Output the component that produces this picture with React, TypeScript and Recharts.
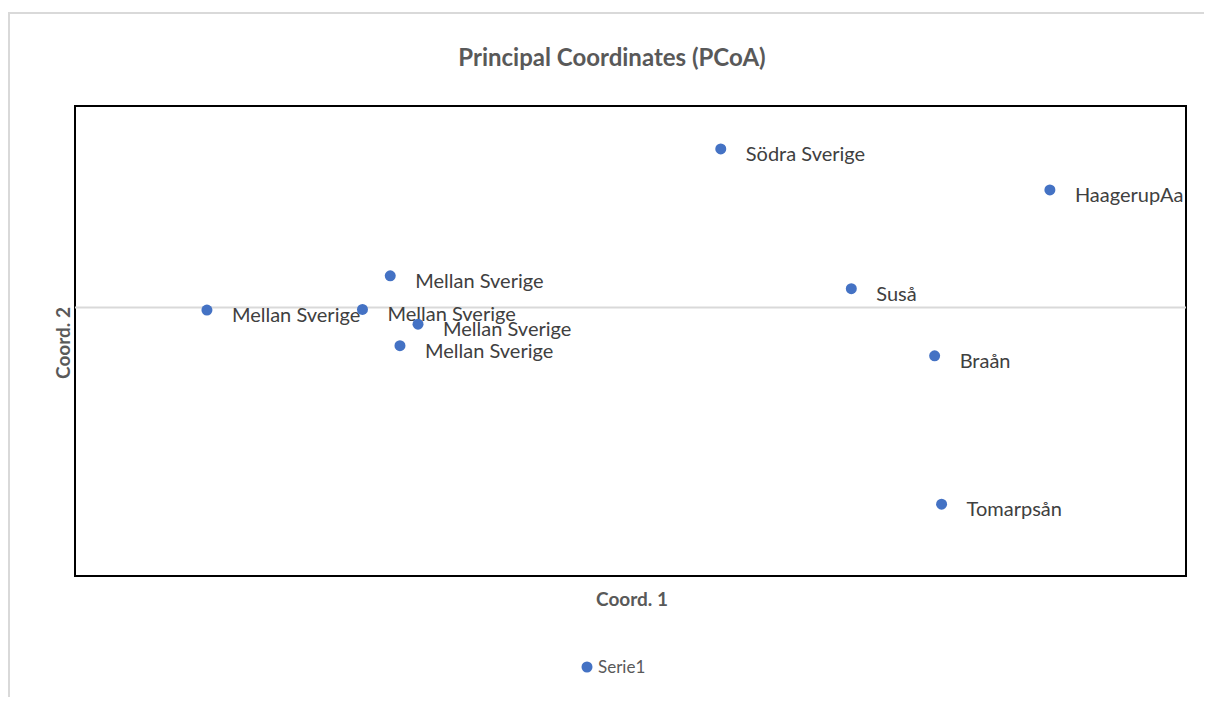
import { ScatterChart, Scatter, XAxis, YAxis, ReferenceLine, ReferenceArea } from "recharts";

const siteNames = [
  "Mellan Sverige",
  "Mellan Sverige",
  "Mellan Sverige",
  "Mellan Sverige",
  "Mellan Sverige",
  "Södra Sverige",
  "HaagerupAa",
  "Suså",
  "Braån",
  "Tomarpsån",
];
const coord1 = [-0.305, -0.193, -0.173, -0.153, -0.166, 0.065, 0.302, 0.159, 0.219, 0.224];
const coord2 = [-0.004, -0.003, 0.047, -0.025, -0.057, 0.236, 0.175, 0.028, -0.072, -0.293];

const xDomain: [number, number] = [-0.4, 0.4];
const yDomain: [number, number] = [-0.4, 0.3];

const points = siteNames.map((name, i) => ({ name, x: coord1[i], y: coord2[i] }));

const FONT = "Lato, 'Open Sans', sans-serif";
const BLUE = "#4472C4";

function LabelledDot(props: any) {
  const { cx, cy, payload } = props;
  if (cx == null || cy == null) return null;
  return (
    <g>
      <circle cx={cx} cy={cy} r={5.5} fill={BLUE} />
      <text x={cx + 25} y={cy + 12} fontSize={20} fontFamily={FONT} fill="#404040">
        {payload.name}
      </text>
    </g>
  );
}

export default function App() {
  return (
    <div
      style={{
        marginTop: 4,
        width: 1202,
        height: 683,
        borderTop: "2px solid #d9d9d9",
        borderLeft: "2px solid #d9d9d9",
      }}
    >
      <ScatterChart width={1202} height={683} margin={{ top: 92, right: 26, bottom: 121, left: 65 }}>
        <XAxis type="number" dataKey="x" domain={xDomain} hide allowDataOverflow />
        <YAxis type="number" dataKey="y" domain={yDomain} hide allowDataOverflow />
        <ReferenceLine y={0} stroke="#d9d9d9" strokeWidth={2} />
        <Scatter data={points} fill={BLUE} isAnimationActive={false} shape={(p: any) => <LabelledDot {...p} />} />
        <ReferenceArea
          x1={xDomain[0]}
          x2={xDomain[1]}
          y1={yDomain[0]}
          y2={yDomain[1]}
          fill="none"
          fillOpacity={0}
          stroke="#000"
          strokeWidth={2}
        />
        <text x={602} y={52} textAnchor="middle" fontFamily={FONT} fontWeight="bold" fontSize={24} fill="#595959">
          Principal Coordinates (PCoA)
        </text>
        <text x={622} y={592} textAnchor="middle" fontFamily={FONT} fontWeight="bold" fontSize={19} fill="#595959">
          Coord. 1
        </text>
        <text
          x={52}
          y={329}
          textAnchor="middle"
          fontFamily={FONT}
          fontWeight="bold"
          fontSize={19}
          fill="#595959"
          transform="rotate(-90 52 329)"
          dominantBaseline="central"
        >
          Coord. 2
        </text>
        <g>
          <circle cx={577} cy={653} r={5.5} fill={BLUE} />
          <text x={588} y={659} fontFamily={FONT} fontSize={17} fill="#595959">
            Serie1
          </text>
        </g>
      </ScatterChart>
    </div>
  );
}
